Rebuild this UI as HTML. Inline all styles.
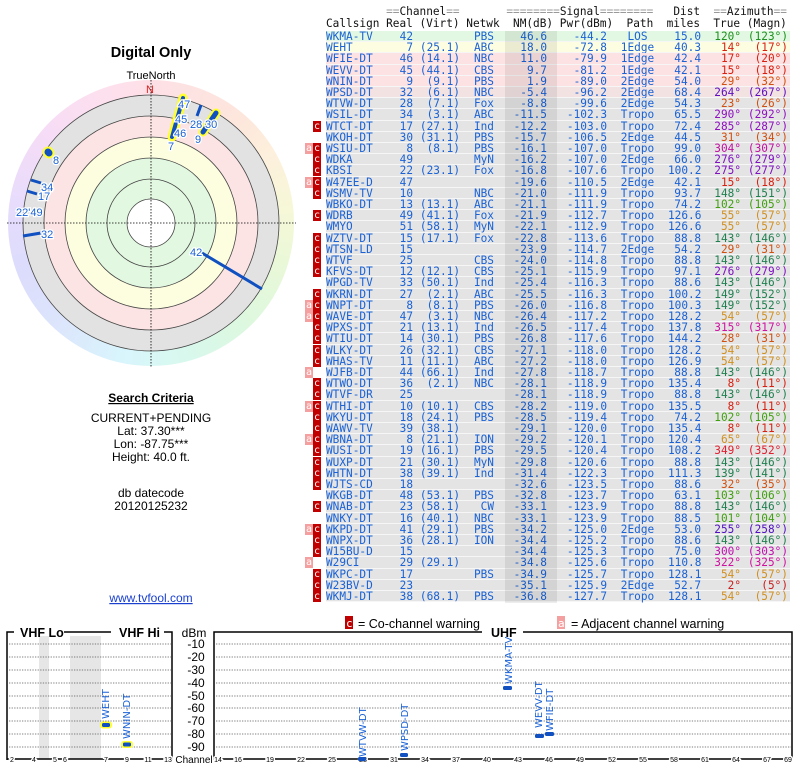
<!DOCTYPE html>
<html><head><meta charset="utf-8">
<style>
body{margin:0;width:800px;height:768px;background:#fff;position:relative;overflow:hidden;font-family:"Liberation Sans",sans-serif;}
.abs{position:absolute}
#disk{position:absolute;left:8px;top:80px;width:286px;height:286px;border-radius:50%;
background:conic-gradient(#fde0e6 0deg,#fde6dc 40deg,#fdf0dc 60deg,#f6f8d8 85deg,#e8f8d8 110deg,#dcf8e0 140deg,#d8f8f0 170deg,#d8f6fc 190deg,#dce6fc 220deg,#dcdcfc 250deg,#e8dcfc 280deg,#f6dcf6 310deg,#fde0ee 340deg,#fde0e6 360deg);}
.tbl{position:absolute;left:326px;font-family:"DejaVu Sans Mono","Liberation Mono",monospace;font-size:11.1px;color:#1a62d6;}
.r{position:absolute;left:0;width:464px;height:11.2px;line-height:11.2px;display:grid;grid-template-columns:54px 33px 47px 34px 53px 60px 61px 33px 40px 49px;background:#e4e4e4;box-shadow:inset 0 -1px 0 #f6f6f6;white-space:pre}
.r span{text-align:right}
.r span:first-of-type{text-align:left}
.r span:nth-of-type(7){text-align:center}
.r span:last-of-type{padding-right:2px}
.mC,.ma{position:absolute;top:0;width:8px;height:11px;line-height:11px;font-size:10px;color:#fff;text-align:center;font-style:normal;font-family:"DejaVu Sans Mono",monospace}
.mC{left:-13px;background:#c00000}
.ma{left:-21px;background:#f4a0a0}
.hd{position:absolute;left:326px;font-family:"DejaVu Sans Mono","Liberation Mono",monospace;font-size:11.1px;color:#111;white-space:pre;line-height:12px}
.g{color:#999}
</style></head><body>

<div id="disk"></div>
<svg class="abs" style="left:0;top:0" width="800" height="768" xmlns="http://www.w3.org/2000/svg">
<g stroke="#444" stroke-width="0.8">
<circle cx="151" cy="223" r="128" fill="#e2e2e2"/>
<circle cx="151" cy="223" r="107" fill="#fce4e4"/>
<circle cx="151" cy="223" r="86" fill="#fdfde0"/>
<circle cx="151" cy="223" r="65" fill="#e2f8e0"/>
<circle cx="151" cy="223" r="44" fill="#e2f8e0"/>
<circle cx="151" cy="223" r="24" fill="#fff"/>
</g>
<g stroke="#000" stroke-width="0.8" stroke-dasharray="1.5,1.5">
<line x1="7" y1="223" x2="296" y2="223"/>
<line x1="151" y1="80" x2="151" y2="367"/>
</g>
<text x="151" y="57" font-size="14.5" font-weight="bold" text-anchor="middle" fill="#000">Digital Only</text>
<text x="151" y="79" font-size="11" text-anchor="middle" fill="#000">TrueNorth</text>
<text x="150" y="93" font-size="11" text-anchor="middle" fill="#e02020">N</text>
<g stroke-linecap="round">
<line x1="183" y1="98" x2="172" y2="137" stroke="#ffff30" stroke-width="9"/>
<line x1="183" y1="98" x2="172" y2="137" stroke="#1050c0" stroke-width="4"/>
<line x1="216" y1="113" x2="203" y2="132" stroke="#ffff30" stroke-width="9"/>
<line x1="216" y1="113" x2="203" y2="132" stroke="#1050c0" stroke-width="5"/>
<line x1="48" y1="152" x2="49" y2="153" stroke="#ffff30" stroke-width="11"/>
<line x1="48" y1="152" x2="49" y2="153" stroke="#1050c0" stroke-width="7"/>
</g>
<g stroke="#1050c0" stroke-width="3">
<line x1="202" y1="253" x2="262" y2="289"/>
<line x1="201" y1="105" x2="197" y2="116"/>
<line x1="31" y1="180" x2="41" y2="183"/>
<line x1="27" y1="191" x2="37" y2="194"/>
<line x1="23" y1="236" x2="41" y2="233"/>
</g>
<g font-size="11" fill="#1a62d6" stroke="#fff" stroke-width="2.5" paint-order="stroke">
<text x="190" y="256">42</text>
<text x="178" y="108">47</text>
<text x="175" y="123">45</text>
<text x="174" y="137">46</text>
<text x="168" y="150">7</text>
<text x="190" y="128">28</text>
<text x="205" y="128">30</text>
<text x="195" y="143">9</text>
<text x="53" y="164">8</text>
<text x="41" y="191">34</text>
<text x="38" y="200">17</text>
<text x="16" y="216">22'49</text>
<text x="41" y="238">32</text>
</g>
<g font-size="12" text-anchor="middle" fill="#000">
<text x="151" y="402" font-weight="bold" text-decoration="underline">Search Criteria</text>
<text x="151" y="422">CURRENT+PENDING</text>
<text x="151" y="435">Lat: 37.30***</text>
<text x="151" y="448">Lon: -87.75***</text>
<text x="151" y="461">Height: 40.0 ft.</text>
<text x="151" y="497">db datecode</text>
<text x="151" y="510">20120125232</text>
<text x="151" y="602" fill="#1a40d0" text-decoration="underline">www.tvfool.com</text>
</g>
<rect x="345" y="616" width="8" height="13" fill="#c00000"/>
<text x="346" y="627" font-size="11" fill="#fff" font-family="DejaVu Sans Mono">c</text>
<text x="358" y="628" font-size="12.5" fill="#000">= Co-channel warning</text>
<rect x="557" y="616" width="8" height="13" fill="#f4a0a0"/>
<text x="558" y="627" font-size="11" fill="#fff" font-family="DejaVu Sans Mono">a</text>
<text x="571" y="628" font-size="12.5" fill="#000">= Adjacent channel warning</text>

<rect x="39" y="636" width="10" height="123" fill="#e6e6e6"/>
<rect x="70" y="636" width="31" height="123" fill="#e6e6e6"/>
<g stroke="#555" stroke-width="0.7" stroke-dasharray="1.3,1.3">
<line x1="9" y1="644" x2="171" y2="644"/><line x1="9" y1="657" x2="171" y2="657"/>
<line x1="9" y1="670" x2="171" y2="670"/><line x1="9" y1="683" x2="171" y2="683"/>
<line x1="9" y1="696" x2="171" y2="696"/><line x1="9" y1="708" x2="171" y2="708"/>
<line x1="9" y1="721" x2="171" y2="721"/><line x1="9" y1="734" x2="171" y2="734"/>
<line x1="9" y1="747" x2="171" y2="747"/>
<line x1="216" y1="644" x2="791" y2="644"/><line x1="216" y1="657" x2="791" y2="657"/>
<line x1="216" y1="670" x2="791" y2="670"/><line x1="216" y1="683" x2="791" y2="683"/>
<line x1="216" y1="696" x2="791" y2="696"/><line x1="216" y1="708" x2="791" y2="708"/>
<line x1="216" y1="721" x2="791" y2="721"/><line x1="216" y1="734" x2="791" y2="734"/>
<line x1="216" y1="747" x2="791" y2="747"/>
</g>
<g stroke="#000" stroke-width="1.5" fill="none">
<polyline points="7,760 7,632 14,632"/>
<line x1="64" y1="632" x2="111" y2="632"/>
<polyline points="164,632 172,632 172,760"/>
<polyline points="214,760 214,632 482,632"/>
<polyline points="523,632 792,632 792,760"/>
<line x1="7" y1="759" x2="172" y2="759"/>
<line x1="214" y1="759" x2="792" y2="759"/>
</g>
<g font-size="12.5" font-weight="bold" fill="#000">
<text x="20" y="637">VHF Lo</text>
<text x="119" y="637">VHF Hi</text>
<text x="491" y="637">UHF</text>
</g>
<g font-size="12" fill="#000" text-anchor="middle">
<text x="194" y="637">dBm</text>
<text x="196" y="648">-10</text><text x="196" y="661">-20</text><text x="196" y="674">-30</text>
<text x="196" y="687">-40</text><text x="196" y="700">-50</text><text x="196" y="712">-60</text>
<text x="196" y="725">-70</text><text x="196" y="738">-80</text><text x="196" y="751">-90</text>
<text x="194" y="763" font-size="10">Channel</text>
</g>
<g font-size="7" fill="#000" text-anchor="middle" stroke="#fff" stroke-width="3" paint-order="stroke">
<text x="12" y="762">2</text><text x="34" y="762">4</text><text x="55" y="762">5</text><text x="65" y="762">6</text>
<text x="106" y="762">7</text><text x="127" y="762">9</text><text x="148" y="762">11</text><text x="168" y="762">13</text>
<text x="218" y="762">14</text><text x="238" y="762">16</text><text x="270" y="762">19</text><text x="301" y="762">22</text>
<text x="332" y="762">25</text><text x="363" y="762">28</text><text x="394" y="762">31</text><text x="425" y="762">34</text>
<text x="456" y="762">37</text><text x="487" y="762">40</text><text x="518" y="762">43</text><text x="549" y="762">46</text>
<text x="580" y="762">49</text><text x="612" y="762">52</text><text x="643" y="762">55</text><text x="674" y="762">58</text>
<text x="705" y="762">61</text><text x="736" y="762">64</text><text x="767" y="762">67</text><text x="788" y="762">69</text>
</g>
<rect x="100" y="721.5" width="12" height="7" rx="3" fill="#ffff30"/>
<rect x="102" y="723" width="8" height="4" rx="1.5" fill="#1050c0"/>
<rect x="121" y="741" width="12" height="7" rx="3" fill="#ffff30"/>
<rect x="123" y="742.5" width="8" height="4" rx="1.5" fill="#1050c0"/>
<rect x="358" y="757" width="8" height="4" rx="1.5" fill="#1050c0"/>
<rect x="400" y="753" width="8" height="4" rx="1.5" fill="#1050c0"/>
<rect x="503" y="686" width="9" height="4" rx="1.5" fill="#1050c0"/>
<rect x="535" y="734" width="9" height="4" rx="1.5" fill="#1050c0"/>
<rect x="545" y="732" width="9" height="4" rx="1.5" fill="#1050c0"/>
<g font-size="10" fill="#1a62d6" font-family="DejaVu Sans,sans-serif">
<text transform="translate(109,719) rotate(-90)">WEHT</text>
<text transform="translate(130,739) rotate(-90)">WNIN-DT</text>
<text transform="translate(366,757) rotate(-90)">WTVW-DT</text>
<text transform="translate(408,751) rotate(-90)">WPSD-DT</text>
<text transform="translate(512,684) rotate(-90)">WKMA-TV</text>
<text transform="translate(542,728) rotate(-90)">WEVV-DT</text>
<text transform="translate(553,731) rotate(-90)">WFIE-DT</text>
</g>
</svg>

<div class="hd" style="top:6px">         <span class="g">==</span>Channel<span class="g">==</span>       <span class="g">========</span>Signal<span class="g">========</span>   Dist  <span class="g">==</span>Azimuth<span class="g">==</span></div>
<div class="hd" style="top:18px">Callsign Real (Virt) Netwk  NM(dB) Pwr(dBm)  Path  miles  True (Magn)</div>
<div class="abs" style="left:505px;top:31px;width:52px;height:572px;background:rgba(0,0,0,0.07);z-index:2"></div>
<div class="tbl" style="top:31px">
<div class="r" style="top:0px;background:#e2f8e2"><span>WKMA-TV</span><span>42</span><span></span><span>PBS</span><span>46.6</span><span>-44.2</span><span>LOS</span><span>15.0</span><span style="color:#209020">120°</span><span style="color:#209020">(123°)</span></div>
<div class="r" style="top:11.2px;background:#fdfde2"><span>WEHT</span><span>7</span><span>(25.1)</span><span>ABC</span><span>18.0</span><span>-72.8</span><span>1Edge</span><span>40.3</span><span style="color:#d82010">14°</span><span style="color:#d82010">(17°)</span></div>
<div class="r" style="top:22.4px;background:#fce2e2"><span>WFIE-DT</span><span>46</span><span>(14.1)</span><span>NBC</span><span>11.0</span><span>-79.9</span><span>1Edge</span><span>42.4</span><span style="color:#d82010">17°</span><span style="color:#d82010">(20°)</span></div>
<div class="r" style="top:33.6px;background:#fce2e2"><span>WEVV-DT</span><span>45</span><span>(44.1)</span><span>CBS</span><span>9.7</span><span>-81.2</span><span>1Edge</span><span>42.1</span><span style="color:#d82010">15°</span><span style="color:#d82010">(18°)</span></div>
<div class="r" style="top:44.8px;background:#fce2e2"><span>WNIN-DT</span><span>9</span><span>(9.1)</span><span>PBS</span><span>1.9</span><span>-89.0</span><span>2Edge</span><span>54.0</span><span style="color:#d05010">29°</span><span style="color:#d05010">(32°)</span></div>
<div class="r" style="top:56px;background:#f2e2e2"><span>WPSD-DT</span><span>32</span><span>(6.1)</span><span>NBC</span><span>-5.4</span><span>-96.2</span><span>2Edge</span><span>68.4</span><span style="color:#6010c0">264°</span><span style="color:#6010c0">(267°)</span></div>
<div class="r" style="top:67.2px"><span>WTVW-DT</span><span>28</span><span>(7.1)</span><span>Fox</span><span>-8.8</span><span>-99.6</span><span>2Edge</span><span>54.3</span><span style="color:#d05010">23°</span><span style="color:#d05010">(26°)</span></div>
<div class="r" style="top:78.4px"><span>WSIL-DT</span><span>34</span><span>(3.1)</span><span>ABC</span><span>-11.5</span><span>-102.3</span><span>Tropo</span><span>65.5</span><span style="color:#9010c0">290°</span><span style="color:#9010c0">(292°)</span></div>
<div class="r" style="top:89.6px"><i class="mC">c</i><span>WTCT-DT</span><span>17</span><span>(27.1)</span><span>Ind</span><span>-12.2</span><span>-103.0</span><span>Tropo</span><span>72.4</span><span style="color:#9010c0">285°</span><span style="color:#9010c0">(287°)</span></div>
<div class="r" style="top:100.8px"><span>WKOH-DT</span><span>30</span><span>(31.1)</span><span>PBS</span><span>-15.7</span><span>-106.5</span><span>2Edge</span><span>44.5</span><span style="color:#d05010">31°</span><span style="color:#d05010">(34°)</span></div>
<div class="r" style="top:112px"><i class="ma">a</i><i class="mC">c</i><span>WSIU-DT</span><span>8</span><span>(8.1)</span><span>PBS</span><span>-16.1</span><span>-107.0</span><span>Tropo</span><span>99.0</span><span style="color:#c010a0">304°</span><span style="color:#c010a0">(307°)</span></div>
<div class="r" style="top:123.2px"><i class="mC">c</i><span>WDKA</span><span>49</span><span></span><span>MyN</span><span>-16.2</span><span>-107.0</span><span>2Edge</span><span>66.0</span><span style="color:#8010c0">276°</span><span style="color:#8010c0">(279°)</span></div>
<div class="r" style="top:134.4px"><i class="mC">c</i><span>KBSI</span><span>22</span><span>(23.1)</span><span>Fox</span><span>-16.8</span><span>-107.6</span><span>Tropo</span><span>100.2</span><span style="color:#8010c0">275°</span><span style="color:#8010c0">(277°)</span></div>
<div class="r" style="top:145.6px"><i class="ma">a</i><i class="mC">c</i><span>W47EE-D</span><span>47</span><span></span><span></span><span>-19.6</span><span>-110.5</span><span>2Edge</span><span>42.1</span><span style="color:#d82010">15°</span><span style="color:#d82010">(18°)</span></div>
<div class="r" style="top:156.8px"><i class="mC">c</i><span>WSMV-TV</span><span>10</span><span></span><span>NBC</span><span>-21.0</span><span>-111.9</span><span>Tropo</span><span>93.7</span><span style="color:#208050">148°</span><span style="color:#208050">(151°)</span></div>
<div class="r" style="top:168px"><span>WBKO-DT</span><span>13</span><span>(13.1)</span><span>ABC</span><span>-21.1</span><span>-111.9</span><span>Tropo</span><span>74.2</span><span style="color:#40a010">102°</span><span style="color:#40a010">(105°)</span></div>
<div class="r" style="top:179.2px"><i class="mC">c</i><span>WDRB</span><span>49</span><span>(41.1)</span><span>Fox</span><span>-21.9</span><span>-112.7</span><span>Tropo</span><span>126.6</span><span style="color:#d09020">55°</span><span style="color:#d09020">(57°)</span></div>
<div class="r" style="top:190.4px"><span>WMYO</span><span>51</span><span>(58.1)</span><span>MyN</span><span>-22.1</span><span>-112.9</span><span>Tropo</span><span>126.6</span><span style="color:#d09020">55°</span><span style="color:#d09020">(57°)</span></div>
<div class="r" style="top:201.6px"><i class="mC">c</i><span>WZTV-DT</span><span>15</span><span>(17.1)</span><span>Fox</span><span>-22.8</span><span>-113.6</span><span>Tropo</span><span>88.8</span><span style="color:#208050">143°</span><span style="color:#208050">(146°)</span></div>
<div class="r" style="top:212.8px"><i class="mC">c</i><span>WTSN-LD</span><span>15</span><span></span><span></span><span>-23.9</span><span>-114.7</span><span>2Edge</span><span>54.2</span><span style="color:#d05010">29°</span><span style="color:#d05010">(31°)</span></div>
<div class="r" style="top:224px"><i class="mC">c</i><span>WTVF</span><span>25</span><span></span><span>CBS</span><span>-24.0</span><span>-114.8</span><span>Tropo</span><span>88.8</span><span style="color:#208050">143°</span><span style="color:#208050">(146°)</span></div>
<div class="r" style="top:235.2px"><i class="mC">c</i><span>KFVS-DT</span><span>12</span><span>(12.1)</span><span>CBS</span><span>-25.1</span><span>-115.9</span><span>Tropo</span><span>97.1</span><span style="color:#8010c0">276°</span><span style="color:#8010c0">(279°)</span></div>
<div class="r" style="top:246.4px"><span>WPGD-TV</span><span>33</span><span>(50.1)</span><span>Ind</span><span>-25.4</span><span>-116.3</span><span>Tropo</span><span>88.6</span><span style="color:#208050">143°</span><span style="color:#208050">(146°)</span></div>
<div class="r" style="top:257.6px"><i class="mC">c</i><span>WKRN-DT</span><span>27</span><span>(2.1)</span><span>ABC</span><span>-25.5</span><span>-116.3</span><span>Tropo</span><span>100.2</span><span style="color:#208050">149°</span><span style="color:#208050">(152°)</span></div>
<div class="r" style="top:268.8px"><i class="ma">a</i><i class="mC">c</i><span>WNPT-DT</span><span>8</span><span>(8.1)</span><span>PBS</span><span>-26.0</span><span>-116.8</span><span>Tropo</span><span>100.3</span><span style="color:#208050">149°</span><span style="color:#208050">(152°)</span></div>
<div class="r" style="top:280px"><i class="ma">a</i><i class="mC">c</i><span>WAVE-DT</span><span>47</span><span>(3.1)</span><span>NBC</span><span>-26.4</span><span>-117.2</span><span>Tropo</span><span>128.2</span><span style="color:#d09020">54°</span><span style="color:#d09020">(57°)</span></div>
<div class="r" style="top:291.2px"><i class="mC">c</i><span>WPXS-DT</span><span>21</span><span>(13.1)</span><span>Ind</span><span>-26.5</span><span>-117.4</span><span>Tropo</span><span>137.8</span><span style="color:#d010a0">315°</span><span style="color:#d010a0">(317°)</span></div>
<div class="r" style="top:302.4px"><i class="mC">c</i><span>WTIU-DT</span><span>14</span><span>(30.1)</span><span>PBS</span><span>-26.8</span><span>-117.6</span><span>Tropo</span><span>144.2</span><span style="color:#d05010">28°</span><span style="color:#d05010">(31°)</span></div>
<div class="r" style="top:313.6px"><i class="mC">c</i><span>WLKY-DT</span><span>26</span><span>(32.1)</span><span>CBS</span><span>-27.1</span><span>-118.0</span><span>Tropo</span><span>128.2</span><span style="color:#d09020">54°</span><span style="color:#d09020">(57°)</span></div>
<div class="r" style="top:324.8px"><i class="mC">c</i><span>WHAS-TV</span><span>11</span><span>(11.1)</span><span>ABC</span><span>-27.2</span><span>-118.0</span><span>Tropo</span><span>126.9</span><span style="color:#d09020">54°</span><span style="color:#d09020">(57°)</span></div>
<div class="r" style="top:336px"><i class="ma">a</i><span>WJFB-DT</span><span>44</span><span>(66.1)</span><span>Ind</span><span>-27.8</span><span>-118.7</span><span>Tropo</span><span>88.8</span><span style="color:#208050">143°</span><span style="color:#208050">(146°)</span></div>
<div class="r" style="top:347.2px"><i class="mC">c</i><span>WTWO-DT</span><span>36</span><span>(2.1)</span><span>NBC</span><span>-28.1</span><span>-118.9</span><span>Tropo</span><span>135.4</span><span style="color:#d82010">8°</span><span style="color:#d82010">(11°)</span></div>
<div class="r" style="top:358.4px"><i class="mC">c</i><span>WTVF-DR</span><span>25</span><span></span><span></span><span>-28.1</span><span>-118.9</span><span>Tropo</span><span>88.8</span><span style="color:#208050">143°</span><span style="color:#208050">(146°)</span></div>
<div class="r" style="top:369.6px"><i class="ma">a</i><i class="mC">c</i><span>WTHI-DT</span><span>10</span><span>(10.1)</span><span>CBS</span><span>-28.2</span><span>-119.0</span><span>Tropo</span><span>135.5</span><span style="color:#d82010">8°</span><span style="color:#d82010">(11°)</span></div>
<div class="r" style="top:380.8px"><i class="mC">c</i><span>WKYU-DT</span><span>18</span><span>(24.1)</span><span>PBS</span><span>-28.5</span><span>-119.4</span><span>Tropo</span><span>74.2</span><span style="color:#40a010">102°</span><span style="color:#40a010">(105°)</span></div>
<div class="r" style="top:392px"><i class="mC">c</i><span>WAWV-TV</span><span>39</span><span>(38.1)</span><span></span><span>-29.1</span><span>-120.0</span><span>Tropo</span><span>135.4</span><span style="color:#d82010">8°</span><span style="color:#d82010">(11°)</span></div>
<div class="r" style="top:403.2px"><i class="ma">a</i><i class="mC">c</i><span>WBNA-DT</span><span>8</span><span>(21.1)</span><span>ION</span><span>-29.2</span><span>-120.1</span><span>Tropo</span><span>120.4</span><span style="color:#d09020">65°</span><span style="color:#d09020">(67°)</span></div>
<div class="r" style="top:414.4px"><i class="mC">c</i><span>WUSI-DT</span><span>19</span><span>(16.1)</span><span>PBS</span><span>-29.5</span><span>-120.4</span><span>Tropo</span><span>108.2</span><span style="color:#e02030">349°</span><span style="color:#e02030">(352°)</span></div>
<div class="r" style="top:425.6px"><i class="mC">c</i><span>WUXP-DT</span><span>21</span><span>(30.1)</span><span>MyN</span><span>-29.8</span><span>-120.6</span><span>Tropo</span><span>88.8</span><span style="color:#208050">143°</span><span style="color:#208050">(146°)</span></div>
<div class="r" style="top:436.8px"><i class="mC">c</i><span>WHTN-DT</span><span>38</span><span>(39.1)</span><span>Ind</span><span>-31.4</span><span>-122.3</span><span>Tropo</span><span>111.3</span><span style="color:#208050">139°</span><span style="color:#208050">(141°)</span></div>
<div class="r" style="top:448px"><i class="mC">c</i><span>WJTS-CD</span><span>18</span><span></span><span></span><span>-32.6</span><span>-123.5</span><span>Tropo</span><span>88.6</span><span style="color:#d05010">32°</span><span style="color:#d05010">(35°)</span></div>
<div class="r" style="top:459.2px"><span>WKGB-DT</span><span>48</span><span>(53.1)</span><span>PBS</span><span>-32.8</span><span>-123.7</span><span>Tropo</span><span>63.1</span><span style="color:#40a010">103°</span><span style="color:#40a010">(106°)</span></div>
<div class="r" style="top:470.4px"><i class="mC">c</i><span>WNAB-DT</span><span>23</span><span>(58.1)</span><span>CW</span><span>-33.1</span><span>-123.9</span><span>Tropo</span><span>88.8</span><span style="color:#208050">143°</span><span style="color:#208050">(146°)</span></div>
<div class="r" style="top:481.6px"><span>WNKY-DT</span><span>16</span><span>(40.1)</span><span>NBC</span><span>-33.1</span><span>-123.9</span><span>Tropo</span><span>88.5</span><span style="color:#40a010">101°</span><span style="color:#40a010">(104°)</span></div>
<div class="r" style="top:492.8px"><i class="ma">a</i><i class="mC">c</i><span>WKPD-DT</span><span>41</span><span>(29.1)</span><span>PBS</span><span>-34.2</span><span>-125.0</span><span>2Edge</span><span>53.0</span><span style="color:#5010c0">255°</span><span style="color:#5010c0">(258°)</span></div>
<div class="r" style="top:504px"><i class="mC">c</i><span>WNPX-DT</span><span>36</span><span>(28.1)</span><span>ION</span><span>-34.4</span><span>-125.2</span><span>Tropo</span><span>88.6</span><span style="color:#208050">143°</span><span style="color:#208050">(146°)</span></div>
<div class="r" style="top:515.2px"><i class="mC">c</i><span>W15BU-D</span><span>15</span><span></span><span></span><span>-34.4</span><span>-125.3</span><span>Tropo</span><span>75.0</span><span style="color:#c010b0">300°</span><span style="color:#c010b0">(303°)</span></div>
<div class="r" style="top:526.4px"><i class="ma">a</i><span>W29CI</span><span>29</span><span>(29.1)</span><span></span><span>-34.8</span><span>-125.6</span><span>Tropo</span><span>110.8</span><span style="color:#d010a0">322°</span><span style="color:#d010a0">(325°)</span></div>
<div class="r" style="top:537.6px"><i class="mC">c</i><span>WKPC-DT</span><span>17</span><span></span><span>PBS</span><span>-34.9</span><span>-125.7</span><span>Tropo</span><span>128.1</span><span style="color:#d09020">54°</span><span style="color:#d09020">(57°)</span></div>
<div class="r" style="top:548.8px"><i class="mC">c</i><span>W23BV-D</span><span>23</span><span></span><span></span><span>-35.1</span><span>-125.9</span><span>2Edge</span><span>52.7</span><span style="color:#c82020">2°</span><span style="color:#c82020">(5°)</span></div>
<div class="r" style="top:560px"><i class="mC">c</i><span>WKMJ-DT</span><span>38</span><span>(68.1)</span><span>PBS</span><span>-36.8</span><span>-127.7</span><span>Tropo</span><span>128.1</span><span style="color:#d09020">54°</span><span style="color:#d09020">(57°)</span></div>
</div>
</body></html>
